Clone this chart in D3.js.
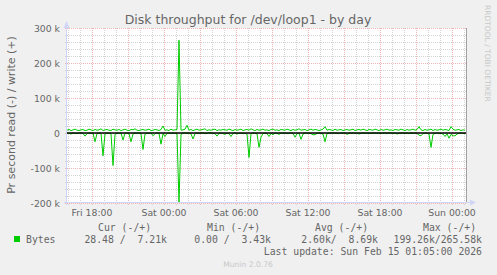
<!DOCTYPE html>
<html>
<head>
<meta charset="utf-8">
<script src="https://cdn.jsdelivr.net/npm/d3@7"></script>
<style>
  body { margin: 0; background: #F0F0F0; }
  svg { display: block; }
</style>
</head>
<body>
<svg id="chart" width="497" height="275"></svg>
<script>
// samples every 10 minutes, values in k (bytes per second)
var startTime = new Date(2026, 1, 13, 15, 55);
var endTime = new Date(2026, 1, 15, 1, 15);
var stepMinutes = 10;

// read bytes (drawn below zero)
var readBytes = [
	0,1,3,0,1,2,0,0,1,9,2,0,1,0,25,2,0,1,65,3,
	0,1,2,93,4,0,1,0,20,1,0,2,25,3,0,1,0,2,47,3,
	0,1,0,8,2,0,1,32,2,10,1,0,2,0,1,2,199,4,1,0,
	1,0,3,17,2,0,1,0,0,2,1,0,0,1,2,9,1,0,2,4,
	0,2,10,1,0,3,1,0,2,1,3,70,2,0,1,2,41,12,1,0,
	2,10,1,5,0,1,4,0,1,0,2,1,0,1,12,2,1,18,3,0,
	1,0,2,5,5,1,0,1,3,25,2,0,1,0,0,1,2,0,1,0,
	4,1,0,0,1,0,3,1,0,0,1,0,2,0,0,1,0,1,0,0,
	1,0,0,1,0,3,1,0,0,1,0,2,0,1,0,1,6,8,2,0,
	1,3,41,4,1,0,2,1,3,10,2,15,4,8,8,3,1,0,1,2
];

// write bytes (drawn above zero)
var writeBytes = [
	8,10,7,9,11,8,7,9,10,7,8,11,9,7,10,8,9,12,7,9,
	10,8,7,11,9,8,10,7,9,11,8,7,10,9,12,8,7,9,10,8,
	9,11,7,8,10,9,7,10,20,8,9,7,11,8,9,10,265,8,9,11,
	22,8,10,7,9,11,8,9,10,12,7,9,8,10,11,7,9,8,10,9,
	8,11,9,7,10,8,9,11,7,9,10,8,12,9,7,10,8,9,11,8,
	9,7,10,11,8,9,7,10,9,8,11,9,7,10,8,9,12,8,9,10,
	7,9,11,8,10,9,7,9,11,18,8,10,9,7,11,8,9,10,7,9,
	10,8,9,11,7,9,10,8,11,9,7,10,9,8,11,9,7,10,8,9,
	11,8,9,7,10,9,8,11,9,7,10,8,9,11,8,10,18,9,7,10,
	8,9,11,7,10,8,9,11,8,10,9,7,18,11,8,9,10,7,9,8
];

var yTicks = [-200, -100, 0, 100, 200, 300];
var yTickLabels = ['-200 k', '-100 k', '0', '100 k', '200 k', '300 k'];

var titleText = 'Disk throughput for /dev/loop1 - by day';
var yLabelText = 'Pr second read (-) / write (+)';
var seriesName = 'Bytes';
var legendHeads = ['Cur (-/+)', 'Min (-/+)', 'Avg (-/+)', 'Max (-/+)'];
var legendValues = ['28.48 /  7.21k', '0.00 /  3.43k', '2.60k/  8.69k', '199.26k/265.58k'];
var lastUpdate = 'Last update: Sun Feb 15 01:05:00 2026';
var footer = 'Munin 2.0.76';
var watermark = 'RRDTOOL / TOBI OETIKER';

var lineColor = '#00CC00';
var axisColor = '#CFD6F8';
var fontColor = '#666666';
var minorGridColor = '#d4d4d4';
var majorGridColor = '#f0b4b4';

var plotLeft = 67, plotRight = 467, plotTop = 28, plotBottom = 203;

var svg = d3.select('#chart');

var x = d3.scaleTime().domain([startTime, endTime]).range([plotLeft, plotRight]);
var y = d3.scaleLinear().domain([-200, 300]).range([plotBottom, plotTop]);

function crisp(v){ return Math.round(v) + 0.5; }

svg.append('rect').attr('width', 497).attr('height', 275).attr('fill', '#F0F0F0');
svg.append('rect')
	.attr('x', plotLeft).attr('y', plotTop)
	.attr('width', plotRight - plotLeft).attr('height', plotBottom - plotTop)
	.attr('fill', '#FFFFFF');

//GRID
var grid = svg.append('g').attr('stroke-dasharray', '1,1').attr('stroke-width', 1);

var hourTicks = x.ticks(d3.timeHour.every(1));
var majorTimes = x.ticks(d3.timeHour.every(3)).map(function(d){ return +d; });

grid.selectAll('line.vminor').data(hourTicks.filter(function(d){ return majorTimes.indexOf(+d) < 0; }))
	.enter().append('line')
	.attr('x1', function(d){ return crisp(x(d)); })
	.attr('x2', function(d){ return crisp(x(d)); })
	.attr('y1', plotTop).attr('y2', plotBottom + 2)
	.attr('stroke', minorGridColor);

var minorY = d3.range(-200, 301, 20).filter(function(v){ return v % 100 != 0; });
grid.selectAll('line.hminor').data(minorY)
	.enter().append('line')
	.attr('x1', plotLeft - 2).attr('x2', plotRight)
	.attr('y1', function(d){ return crisp(y(d)); })
	.attr('y2', function(d){ return crisp(y(d)); })
	.attr('stroke', minorGridColor);

grid.selectAll('line.vmajor').data(majorTimes)
	.enter().append('line')
	.attr('x1', function(d){ return crisp(x(d)); })
	.attr('x2', function(d){ return crisp(x(d)); })
	.attr('y1', plotTop).attr('y2', plotBottom + 2)
	.attr('stroke', majorGridColor);

grid.selectAll('line.hmajor').data(yTicks)
	.enter().append('line')
	.attr('x1', plotLeft - 2).attr('x2', plotRight)
	.attr('y1', function(d){ return crisp(y(d)); })
	.attr('y2', function(d){ return crisp(y(d)); })
	.attr('stroke', majorGridColor);

//DATA
var timeAt = function(i){ return d3.timeMinute.offset(startTime, i * stepMinutes); };

var writeLine = d3.line()
	.x(function(d, i){ return x(timeAt(i)); })
	.y(function(d){ return y(d); });
var readLine = d3.line()
	.x(function(d, i){ return x(timeAt(i)); })
	.y(function(d){ return y(-d); });

svg.append('path').datum(readBytes)
	.attr('d', readLine)
	.attr('fill', 'none').attr('stroke', lineColor).attr('stroke-width', 1);
svg.append('path').datum(writeBytes)
	.attr('d', writeLine)
	.attr('fill', 'none').attr('stroke', lineColor).attr('stroke-width', 1);

// zero line
svg.append('line')
	.attr('x1', plotLeft).attr('x2', plotRight - 1)
	.attr('y1', y(0)).attr('y2', y(0))
	.attr('stroke', '#000').attr('stroke-width', 1.6);

//AXES
svg.append('line')
	.attr('x1', plotRight - 0.5).attr('x2', plotRight - 0.5)
	.attr('y1', plotTop).attr('y2', plotBottom)
	.attr('stroke', '#a0a0a0');

svg.append('line')
	.attr('x1', plotLeft - 0.5).attr('x2', plotLeft - 0.5)
	.attr('y1', plotBottom + 2).attr('y2', plotTop - 2)
	.attr('stroke', axisColor);
svg.append('path')
	.attr('d', 'M' + (plotLeft - 3.5) + ',' + plotTop + 'L' + (plotLeft + 2.5) + ',' + plotTop + 'L' + (plotLeft - 0.5) + ',' + (plotTop - 7) + 'Z')
	.attr('fill', axisColor);

svg.append('line')
	.attr('x1', plotLeft - 3).attr('x2', plotRight + 3)
	.attr('y1', plotBottom - 0.5).attr('y2', plotBottom - 0.5)
	.attr('stroke', axisColor);
svg.append('path')
	.attr('d', 'M' + (plotRight + 3) + ',' + (plotBottom - 3.5) + 'L' + (plotRight + 3) + ',' + (plotBottom + 2.5) + 'L' + (plotRight + 9) + ',' + (plotBottom - 0.5) + 'Z')
	.attr('fill', axisColor);

//TEXT
var sans = 'DejaVu Sans, sans-serif';
var mono = 'DejaVu Sans Mono, monospace';

svg.append('text')
	.attr('x', 248).attr('y', 24)
	.attr('text-anchor', 'middle')
	.attr('font-family', sans).attr('font-size', 12.5)
	.attr('fill', fontColor)
	.text(titleText);

svg.selectAll('text.ytick').data(yTicks).enter().append('text')
	.attr('x', plotLeft - 7)
	.attr('y', function(d){ return y(d) + 3.5; })
	.attr('text-anchor', 'end')
	.attr('font-family', sans).attr('font-size', 9.3)
	.attr('fill', fontColor)
	.text(function(d, i){ return yTickLabels[i]; });

var timeFormat = d3.timeFormat('%a %H:%M');
svg.selectAll('text.xtick').data(x.ticks(d3.timeHour.every(6))).enter().append('text')
	.attr('x', function(d){ return x(d); })
	.attr('y', 216)
	.attr('text-anchor', 'middle')
	.attr('font-family', sans).attr('font-size', 9.3)
	.attr('fill', fontColor)
	.text(function(d){ return timeFormat(d); });

svg.append('text')
	.attr('transform', 'translate(15,115) rotate(-90)')
	.attr('text-anchor', 'middle')
	.attr('font-family', sans).attr('font-size', 11)
	.attr('fill', fontColor)
	.text(yLabelText);

svg.append('text')
	.attr('transform', 'translate(485,5) rotate(90)')
	.attr('font-family', sans).attr('font-size', 7.5)
	.attr('fill', '#c8c8c8')
	.text(watermark);

//LEGEND
var headX = [98, 207, 315, 423];
var valueX = [167, 271, 378, 482];

svg.selectAll('text.head').data(legendHeads).enter().append('text')
	.attr('x', function(d, i){ return headX[i]; })
	.attr('y', 231)
	.attr('font-family', mono).attr('font-size', 9.8)
	.attr('fill', fontColor)
	.style('white-space', 'pre')
	.text(function(d){ return d; });

svg.append('rect')
	.attr('x', 14).attr('y', 236).attr('width', 6).attr('height', 6)
	.attr('fill', lineColor);

svg.append('text')
	.attr('x', 26).attr('y', 243)
	.attr('font-family', mono).attr('font-size', 9.8)
	.attr('fill', fontColor)
	.text(seriesName);

svg.selectAll('text.val').data(legendValues).enter().append('text')
	.attr('x', function(d, i){ return valueX[i]; })
	.attr('y', 243)
	.attr('text-anchor', 'end')
	.attr('font-family', mono).attr('font-size', 9.8)
	.attr('fill', fontColor)
	.style('white-space', 'pre')
	.text(function(d){ return d; });

svg.append('text')
	.attr('x', 482).attr('y', 255)
	.attr('text-anchor', 'end')
	.attr('font-family', mono).attr('font-size', 9.8)
	.attr('fill', fontColor)
	.style('white-space', 'pre')
	.text(lastUpdate);

svg.append('text')
	.attr('x', 248).attr('y', 267)
	.attr('text-anchor', 'middle')
	.attr('font-family', sans).attr('font-size', 7.6)
	.attr('fill', '#c8c8c8')
	.text(footer);
</script>
</body>
</html>
